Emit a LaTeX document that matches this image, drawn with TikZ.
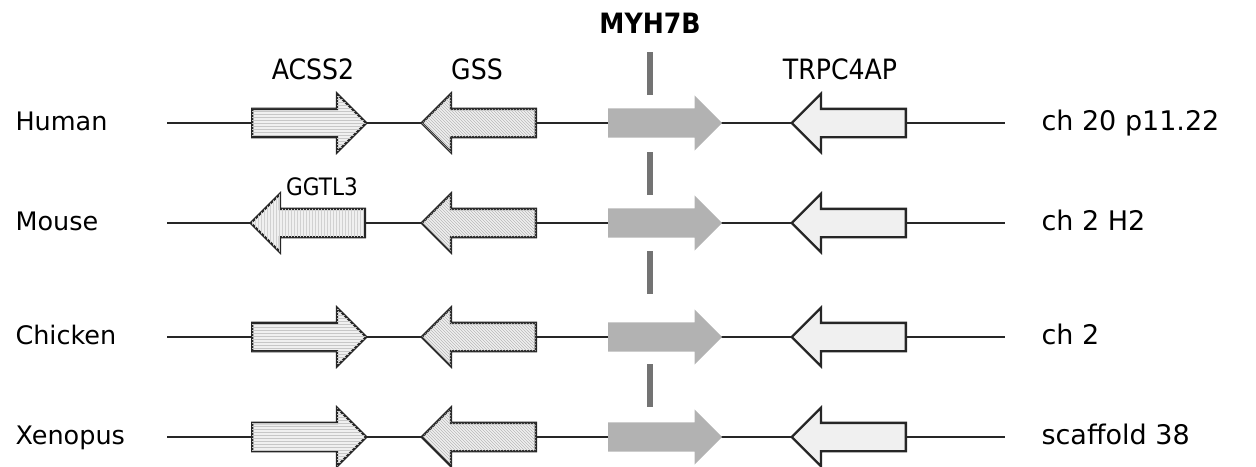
\documentclass[tikz,border=0pt]{standalone}
\usepackage{fontspec}
\setmainfont{DejaVu Sans}
\newfontfamily\genefont{DejaVu Sans Condensed}
\usetikzlibrary{shapes.arrows,patterns}

\begin{document}
\begin{tikzpicture}[x=1pt,y=-1pt,
      gene/.style={single arrow,draw=black!85,line width=2.3pt,fill=black!6,
        inner xsep=0pt,inner ysep=13pt,single arrow head extend=15pt,
        single arrow tip angle=90,single arrow head indent=0pt,
        minimum height=114pt,anchor=tail},
      rev/.style={shape border rotate=180},
      hlines/.style={postaction={pattern=horizontal lines,pattern color=black!22}},
      dlines/.style={postaction={pattern=north west lines,pattern color=black!28}},
      vlines/.style={postaction={pattern=vertical lines,pattern color=black!18}},
      myh/.style={gene,draw=none,fill=black!30,inner ysep=13.5pt,single arrow head extend=13pt},
      backbone/.style={line width=1.7pt,black!85},
      marker/.style={line width=6.5pt,black!55},
      species/.style={anchor=base west,font=\fontsize{25.5}{30}\selectfont},
      genename/.style={anchor=base,font=\genefont\fontsize{28}{32}\selectfont}]
    \useasboundingbox (0,0) rectangle (1256,466);

    \foreach \y/\r/\sp/\chr in {123/h/Human/ch 20 p11.22,223/m/Mouse/ch 2 H2,
                                337/c/Chicken/ch 2,437/x/Xenopus/scaffold 38}{
      \node[species] (sp-\r) at (12,\y+7) {\sp};
      \node[species,font=\fontsize{27}{30}\selectfont] (chr-\r) at (1038,\y+7) {\chr};
      \coordinate (s-\r) at (167,\y);
      \coordinate (e-\r) at (1005,\y);
      \draw[backbone] (s-\r) -- (e-\r);
      \node[gene,rev,dlines] (gss-\r) at (537,\y) {};
      \node[myh] (myh7b-\r) at (607,\y) {};
      \node[gene,rev] (trpc4ap-\r) at (907,\y) {};
    }
    \foreach \r in {h,c,x}
      \node[gene,hlines] (acss2-\r) at (s-\r -| 251,0) {};
    \node[gene,rev,vlines] (ggtl3-m) at (366,223) {};

    \foreach \a/\b in {52/95,152/195,251/294,364/407}
      \draw[marker] (650,\a) -- (650,\b);

    \node[genename] (l-acss2) at (313,79) {ACSS2};
    \node[genename] (l-gss) at (477,79) {GSS};
    \node[genename,font=\genefont\bfseries\fontsize{28}{32}\selectfont] (l-myh7b) at (650,33) {MYH7B};
    \node[genename] (l-trpc4ap) at (840,79) {TRPC4AP};
    \node[genename,font=\genefont\fontsize{24}{28}\selectfont] (l-ggtl3) at (322,195) {GGTL3};
  \end{tikzpicture}
\end{document}
